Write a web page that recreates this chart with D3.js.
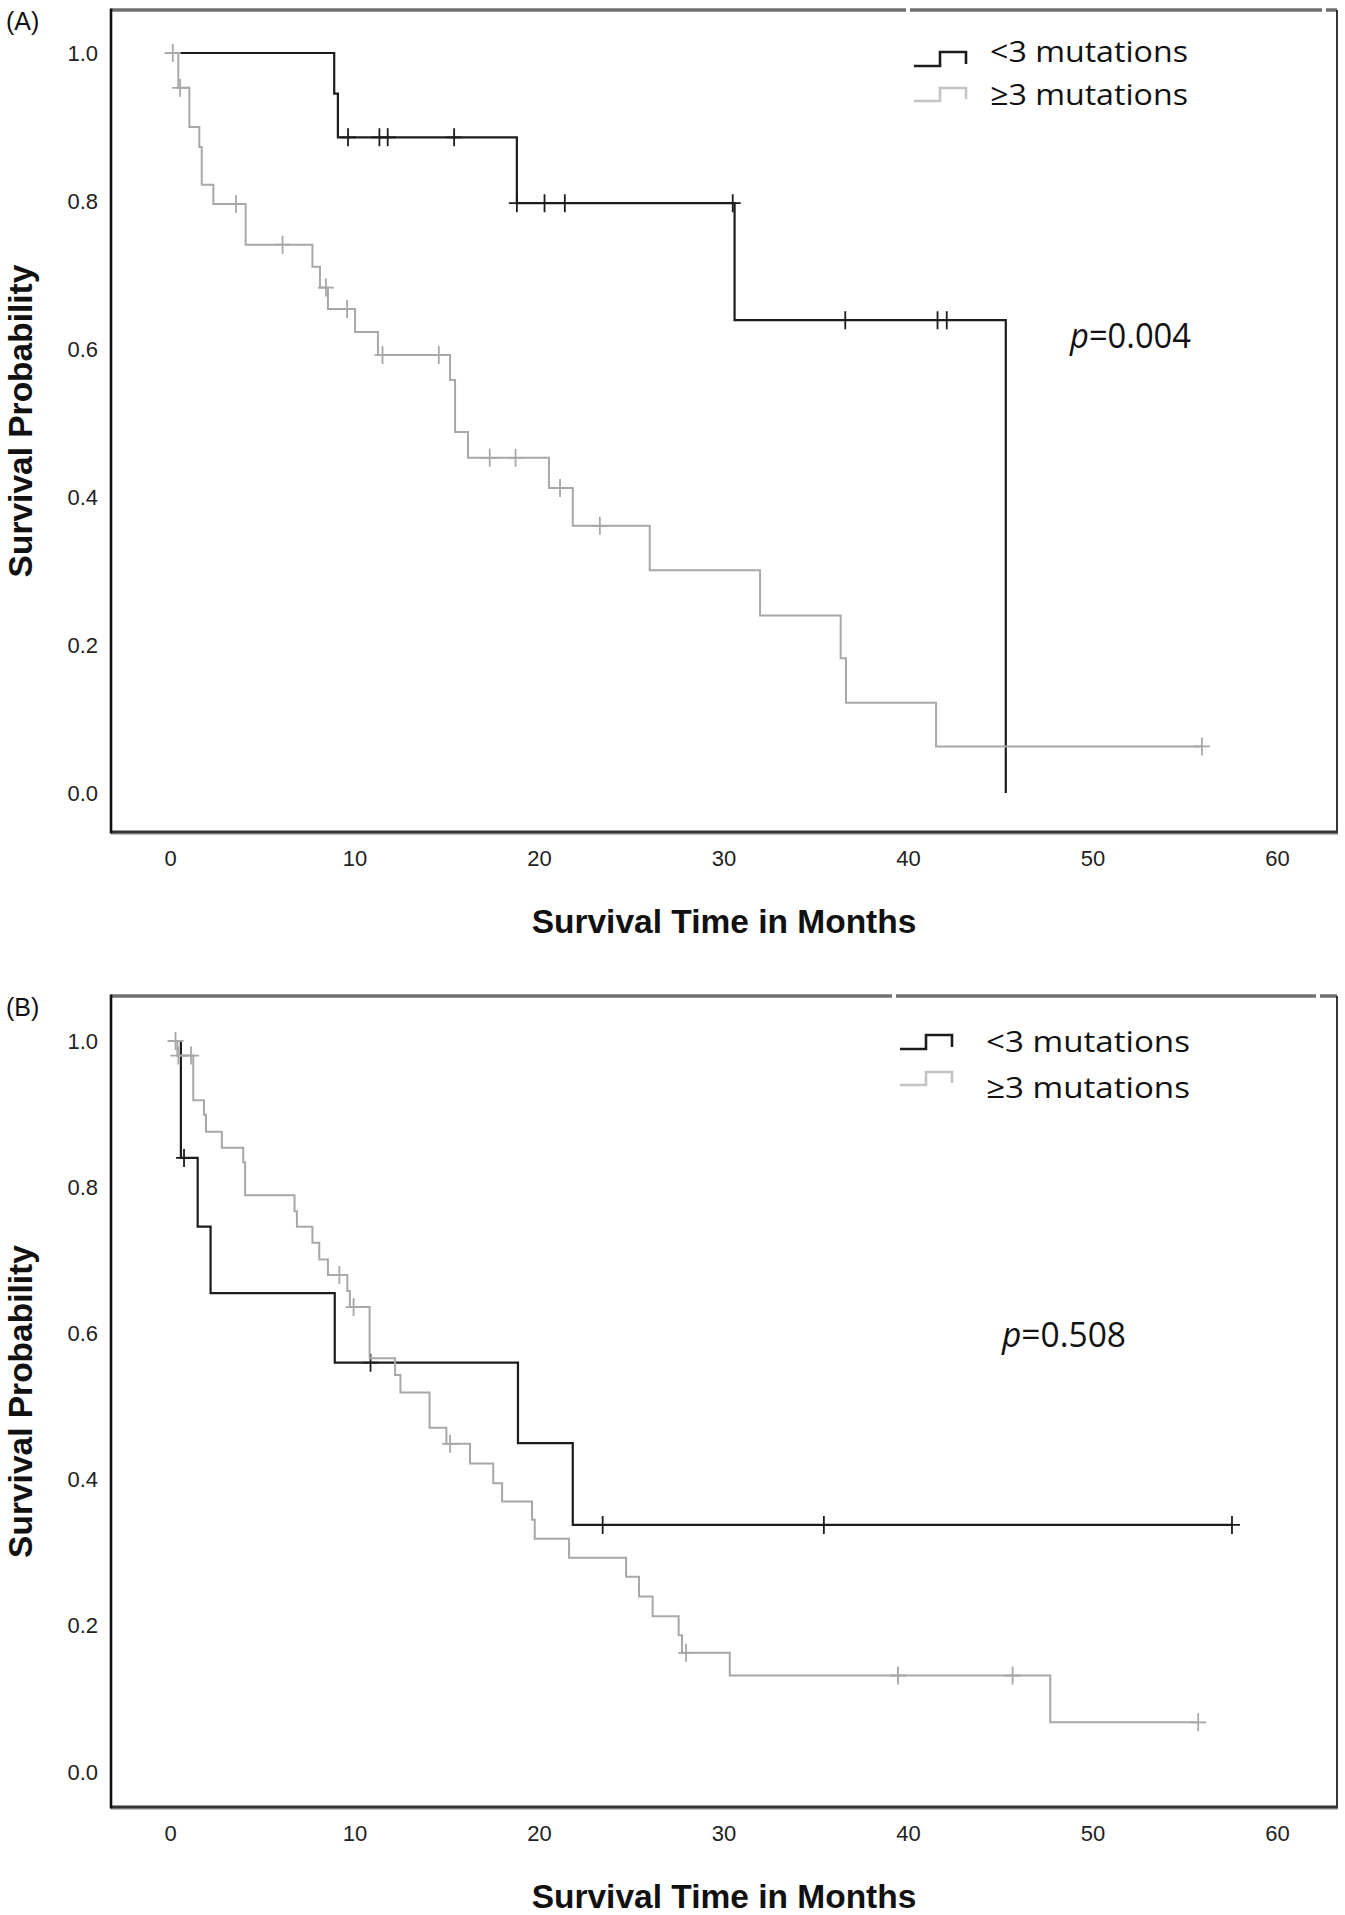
<!DOCTYPE html>
<html>
<head>
<meta charset="utf-8">
<script src="https://d3js.org/d3.v7.min.js"></script>
<style>
  body { margin: 0; background: #fff; }
  .tick text { font-family: "Liberation Sans", Arial, sans-serif; font-size: 22px; fill: #222; }
  .axis-title { font-family: "Liberation Sans", Arial, sans-serif; font-weight: bold; font-size: 33.5px; fill: #111; }
  .panel-tag { font-family: "Liberation Sans", Arial, sans-serif; font-size: 25px; fill: #111; }
  .legend-text, .pval { font-family: "Open Sans", "Noto Sans", sans-serif; fill: #111; }
</style>
</head>
<body>
<script>
// shared axis values
var timeTicks = [0, 10, 20, 30, 40, 50, 60];
var survTicks = [0, 0.2, 0.4, 0.6, 0.8, 1.0];
var groups = ["<3 mutations", "\u22653 mutations"];

// (A) <3 mutations
var aLowTime = [0, 8.9, 9.1, 18.8, 30.6, 45.3];
var aLowSurv = [1.0, 0.945, 0.886, 0.797, 0.639, 0.0];
var aLowCens = [9.65, 11.35, 11.8, 15.4, 18.8, 20.3, 21.4, 30.5, 36.6, 41.6, 42.1];

// (A) >=3 mutations
var aHighTime = [0, 0.45, 1.05, 1.59, 1.72, 2.35, 4.1, 7.72, 8.13, 8.56, 10.03, 11.27,
                 15.18, 15.45, 16.15, 20.54, 21.83, 26.0, 31.98, 36.35, 36.64, 41.52];
var aHighSurv = [1.0, 0.953, 0.900, 0.873, 0.822, 0.796, 0.741, 0.711, 0.683, 0.654, 0.623, 0.592,
                 0.558, 0.488, 0.453, 0.412, 0.361, 0.301, 0.240, 0.182, 0.122, 0.063];
var aHighCens = [0.15, 0.55, 3.58, 6.1, 8.45, 9.6, 11.52, 14.57, 17.33, 18.73, 21.14, 23.3, 55.93];

// (B) <3 mutations
var bLowTime = [0, 0.59, 1.5, 2.2, 8.93, 18.86, 21.83];
var bLowSurv = [1.0, 0.840, 0.746, 0.655, 0.560, 0.450, 0.338];
var bLowCens = [0.76, 10.87, 23.45, 35.44, 57.56];

// (B) >=3 mutations
var bHighTime = [0, 0.4, 1.26, 1.84, 1.95, 2.81, 3.97, 4.07, 6.75, 6.88, 7.72, 8.09, 8.56,
                 9.61, 9.75, 10.82, 12.2, 12.49, 14.07, 14.98, 16.26, 17.52, 18.0, 19.62,
                 19.77, 21.63, 24.72, 25.42, 26.16, 27.57, 27.75, 30.34, 47.71];
var bHighSurv = [1.0, 0.980, 0.919, 0.899, 0.876, 0.854, 0.834, 0.789, 0.767, 0.746, 0.724, 0.701, 0.680,
                 0.658, 0.636, 0.566, 0.543, 0.519, 0.471, 0.449, 0.422, 0.395, 0.370, 0.345,
                 0.319, 0.293, 0.267, 0.240, 0.213, 0.187, 0.163, 0.132, 0.068];
var bHighCens = [0.3, 0.45, 1.14, 9.18, 9.95, 15.18, 27.97, 39.46, 45.67, 55.73];

var colors = ["#1c1c1c", "#a8a8a8"];
var legendColors = ["#1c1c1c", "#c4c4c4"];

var svg = d3.select("body").append("svg")
    .attr("width", 1345)
    .attr("height", 1915);

function survAt(times, surv, t) {
  var s = surv[0];
  for (var i = 0; i < times.length; i++) {
    if (times[i] <= t) s = surv[i];
  }
  return s;
}

function drawPanel(p) {
  var g = svg.append("g");

  var x = d3.scaleLinear().domain([0, 60]).range([170, 1277]);
  var y = d3.scaleLinear().domain([0, 1]).range([p.y0, p.y1]);

  // frame
  var topSegs = [p.left].concat(p.gaps).concat([p.right]);
  for (var i = 0; i < topSegs.length - 1; i++) {
    g.append("line")
      .attr("x1", topSegs[i] + (i > 0 ? 2 : 0)).attr("x2", topSegs[i + 1] - (i < topSegs.length - 2 ? 2 : 0))
      .attr("y1", p.top).attr("y2", p.top)
      .attr("stroke", "#707070").attr("stroke-width", 3.5);
  }
  g.append("line").attr("x1", p.right).attr("x2", p.right).attr("y1", p.top).attr("y2", p.bottom)
    .attr("stroke", "#222").attr("stroke-width", 1.8);
  g.append("line").attr("x1", p.left).attr("x2", p.right + 1).attr("y1", p.bottom + 2).attr("y2", p.bottom + 2)
    .attr("stroke", "#aaa").attr("stroke-width", 1.5);
  g.append("line").attr("x1", p.left).attr("x2", p.right + 1).attr("y1", p.bottom).attr("y2", p.bottom)
    .attr("stroke", "#333").attr("stroke-width", 3);
  g.append("line").attr("x1", p.left).attr("x2", p.left).attr("y1", p.top - 1.5).attr("y2", p.bottom + 1.5)
    .attr("stroke", "#111").attr("stroke-width", 2.6);

  // axes (labels only)
  var yAxis = g.append("g")
      .attr("transform", "translate(" + p.left + ",0)")
      .call(d3.axisLeft(y).tickValues(survTicks).tickSize(0).tickPadding(13).tickFormat(d3.format(".1f")));
  yAxis.select(".domain").remove();

  var xAxis = g.append("g")
      .attr("transform", "translate(0," + p.bottom + ")")
      .call(d3.axisBottom(x).tickValues(timeTicks).tickSize(0).tickPadding(18));
  xAxis.select(".domain").remove();

  g.append("text").attr("class", "axis-title")
    .attr("x", 724).attr("y", p.xTitleY)
    .attr("text-anchor", "middle")
    .text("Survival Time in Months");

  g.append("text").attr("class", "axis-title")
    .attr("transform", "translate(32," + ((p.top + p.bottom) / 2) + ") rotate(-90)")
    .attr("text-anchor", "middle")
    .text("Survival Probability");

  g.append("text").attr("class", "panel-tag")
    .attr("x", 6).attr("y", p.top + 20)
    .text(p.tag);

  // curves
  var line = d3.line()
      .x(function(d) { return x(d[0]); })
      .y(function(d) { return y(d[1]); })
      .curve(d3.curveStepAfter);

  p.series.forEach(function(s, k) {
    var pts = s.time.map(function(t, i) { return [t, s.surv[i]]; });
    var lastT = s.time[s.time.length - 1];
    var endT = d3.max(s.cens.concat([lastT]));
    if (endT > lastT) pts.push([endT, s.surv[s.surv.length - 1]]);

    g.append("path")
      .attr("d", line(pts))
      .attr("fill", "none")
      .attr("stroke", colors[s.group])
      .attr("stroke-width", s.group === 0 ? 2.2 : 2);

    g.selectAll(null)
      .data(s.cens)
      .enter().append("path")
      .attr("d", function(t) {
        var cx = x(t), cy = y(survAt(s.time, s.surv, t));
        return "M" + (cx - 8) + "," + cy + "H" + (cx + 8) + "M" + cx + "," + (cy - 9) + "V" + (cy + 9);
      })
      .attr("fill", "none")
      .attr("stroke", colors[s.group])
      .attr("stroke-width", 1.8);
  });

  // legend
  groups.forEach(function(name, k) {
    var r = p.legend.rows[k];
    g.append("path")
      .attr("d", "M" + p.legend.sx + "," + r.low + "H" + (p.legend.sx + 26) + "V" + r.high +
                 "H" + (p.legend.sx + 52) + "V" + (r.low - 2))
      .attr("fill", "none")
      .attr("stroke", legendColors[k])
      .attr("stroke-width", 2.6);
    g.append("text").attr("class", "legend-text")
      .attr("x", p.legend.tx).attr("y", r.base)
      .attr("font-size", 30)
      .attr("textLength", p.legend.tw)
      .attr("lengthAdjust", "spacingAndGlyphs")
      .text(name);
  });

  var pt = g.append("text").attr("class", "pval")
    .attr("x", p.pval.x).attr("y", p.pval.y)
    .attr("font-size", 35)
    .attr("textLength", p.pval.w)
    .attr("lengthAdjust", "spacingAndGlyphs");
  pt.append("tspan").attr("font-style", "italic").text("p");
  pt.append("tspan").text("=" + p.pval.text);
}

drawPanel({
  tag: "(A)", top: 10, bottom: 832, left: 111, right: 1337, y0: 793, y1: 53,
  gaps: [908, 1324], xTitleY: 933,
  series: [
    { group: 0, time: aLowTime, surv: aLowSurv, cens: aLowCens },
    { group: 1, time: aHighTime, surv: aHighSurv, cens: aHighCens }
  ],
  legend: { sx: 914, tx: 990, tw: 198,
            rows: [{ low: 66, high: 52, base: 62 }, { low: 101, high: 88, base: 105 }] },
  pval: { x: 1070, y: 348, w: 121, text: "0.004" }
});

drawPanel({
  tag: "(B)", top: 996, bottom: 1807, left: 111, right: 1337, y0: 1772, y1: 1041,
  gaps: [894, 1318], xTitleY: 1908,
  series: [
    { group: 0, time: bLowTime, surv: bLowSurv, cens: bLowCens },
    { group: 1, time: bHighTime, surv: bHighSurv, cens: bHighCens }
  ],
  legend: { sx: 900, tx: 986, tw: 204,
            rows: [{ low: 1049, high: 1035, base: 1052 }, { low: 1085, high: 1072, base: 1098 }] },
  pval: { x: 1002, y: 1347, w: 124, text: "0.508" }
});
</script>
</body>
</html>
